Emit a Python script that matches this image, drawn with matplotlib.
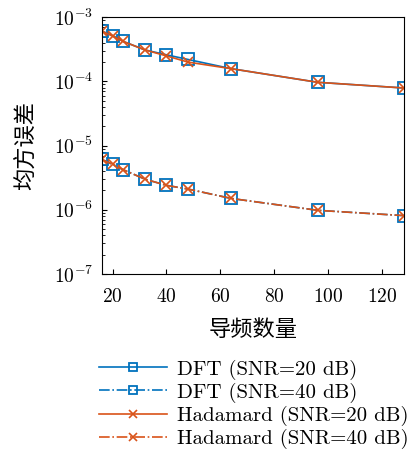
import numpy as np
from matplotlib import pyplot as plt

plt.rcParams['font.family'] = ['cmr10', 'Noto Sans CJK SC', 'DejaVu Sans']
plt.rcParams['mathtext.fontset'] = 'cm'
plt.rcParams['axes.formatter.use_mathtext'] = True
plt.rcParams['axes.unicode_minus'] = False

# pilot counts
pilots = [16, 20, 24, 32, 40, 48, 64, 96, 128]

# MSE values
dft_20 = [6.1e-4, 5.2e-4, 4.2e-4, 3.1e-4, 2.6e-4, 2.2e-4, 1.58e-4, 9.7e-5, 7.9e-5]
dft_40 = [6.1e-6, 5.1e-6, 4.2e-6, 3.0e-6, 2.4e-6, 2.1e-6, 1.5e-6, 9.8e-7, 8.1e-7]
had_20 = [6.1e-4, 5.1e-4, 4.2e-4, 3.1e-4, 2.5e-4, 2.0e-4, 1.58e-4, 9.7e-5, 7.9e-5]
had_40 = [6.1e-6, 5.1e-6, 4.2e-6, 3.0e-6, 2.4e-6, 2.1e-6, 1.5e-6, 9.8e-7, 8.1e-7]

labels = ['DFT (SNR=20 dB)', 'DFT (SNR=40 dB)',
          'Hadamard (SNR=20 dB)', 'Hadamard (SNR=40 dB)']

blue = '#0072BD'
orange = '#D95319'

fig = plt.figure(figsize=(4.11, 4.55), dpi=100)
ax = fig.add_axes([0.2475, 0.398, 0.7355, 0.564])

ax.plot(pilots, dft_20, '-', color=blue, marker='s', mfc='none', ms=8, mew=1.3, lw=1.2, label=labels[0])
ax.plot(pilots, dft_40, '-.', color=blue, marker='s', mfc='none', ms=8, mew=1.3, lw=1.2, label=labels[1])
ax.plot(pilots, had_20, '-', color=orange, marker='x', ms=7, mew=1.2, lw=1.2, label=labels[2])
ax.plot(pilots, had_40, '-.', color=orange, marker='x', ms=7, mew=1.2, lw=1.2, label=labels[3])

ax.set_yscale('log')
ax.set_xlim(16, 128)
ax.set_ylim(1e-7, 1e-3)
ax.set_xticks([20, 40, 60, 80, 100, 120])
ax.set_yticks([1e-7, 1e-6, 1e-5, 1e-4, 1e-3])
ax.tick_params(which='both', direction='in', labelsize=14)
ax.tick_params(axis='x', pad=10)
ax.tick_params(axis='y', pad=6)
ax.set_xlabel('导频数量', fontsize=16, labelpad=10)
ax.set_ylabel('均方误差', fontsize=16, labelpad=12)

fig.legend(loc='upper left', bbox_to_anchor=(0.24, 0.21), frameon=False,
           fontsize=15, handlelength=3.3, handletextpad=0.45, labelspacing=0.15,
           borderaxespad=0, borderpad=0, markerscale=0.75)

fig.savefig('out.png', dpi=100)
